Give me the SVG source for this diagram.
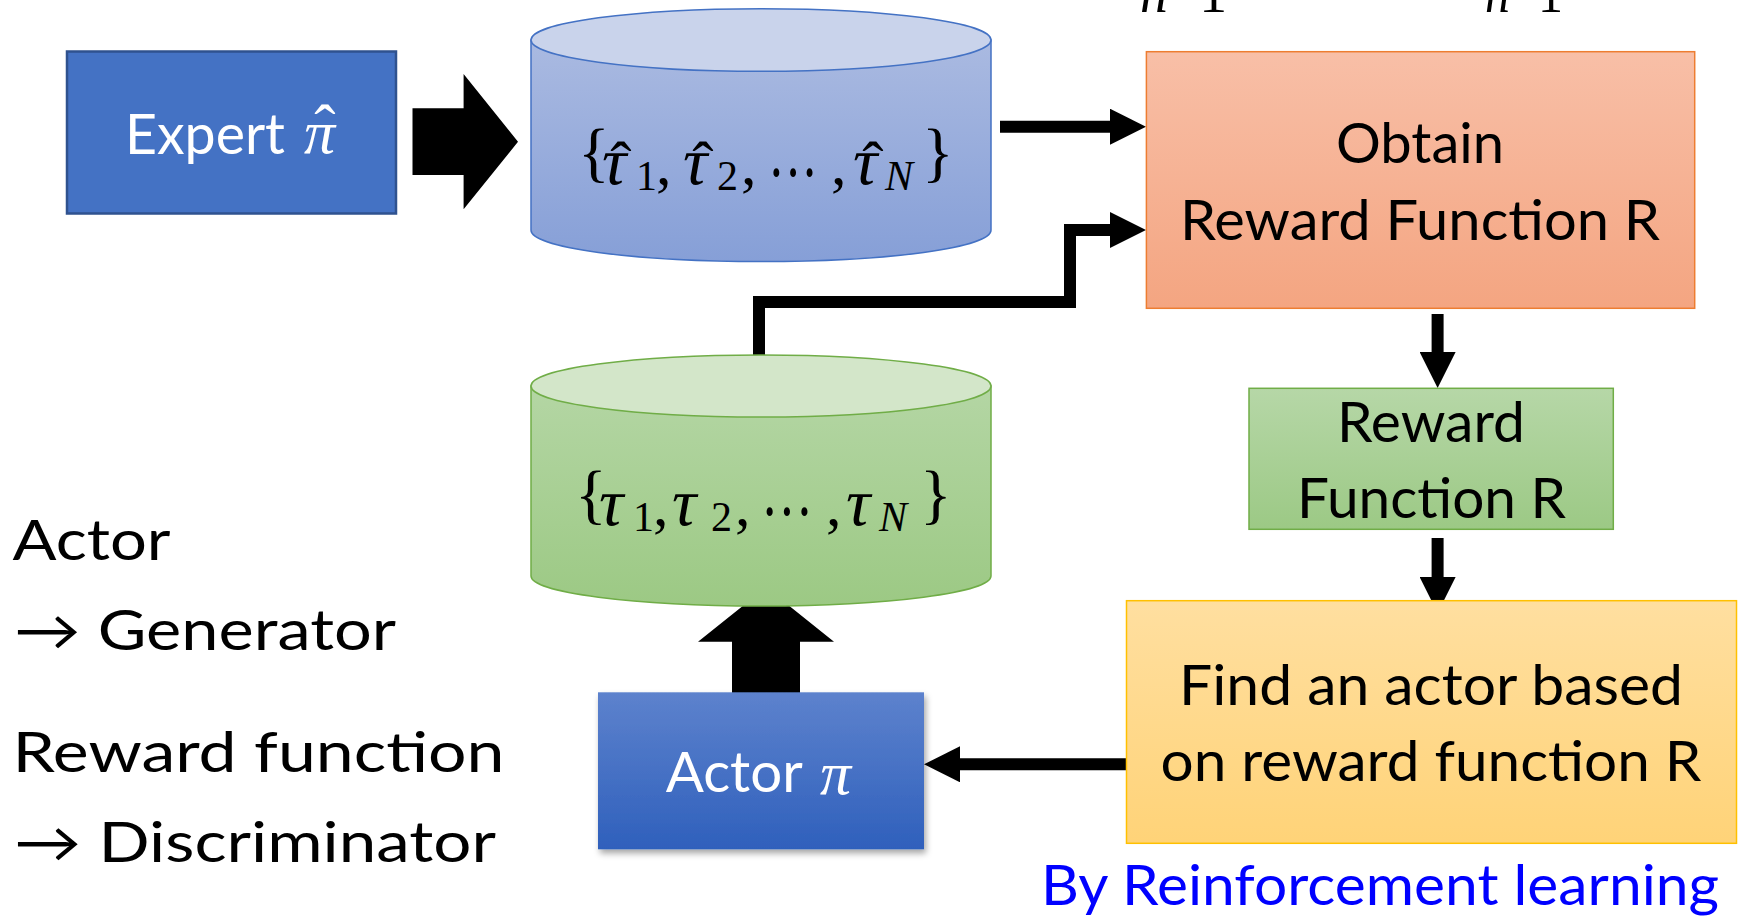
<svg xmlns="http://www.w3.org/2000/svg" width="1744" height="917" viewBox="0 0 1744 917">
<style>
.lbl{font-family:Lato,"Open Sans","Liberation Sans",sans-serif;font-size:56px;fill:#000}
.wht{fill:#fff}
.math{font-family:"Liberation Serif","DejaVu Serif",serif;font-size:62px;fill:#000}
.it{font-style:italic}
.sub{font-size:42px}
.br{font-size:66px}
.tau{font-size:68px;font-style:italic}
.hat{font-size:64px;text-anchor:middle}
.dots{font-size:74px}
.conn{fill:none;stroke:#000;stroke-width:12;stroke-linejoin:miter}
</style>
<defs>
<linearGradient id="gBlueCyl" x1="0" y1="0" x2="0" y2="1"><stop offset="0" stop-color="#AABAE1"/><stop offset="1" stop-color="#869FD7"/></linearGradient>
<linearGradient id="gGreenCyl" x1="0" y1="0" x2="0" y2="1"><stop offset="0" stop-color="#B4D6A4"/><stop offset="1" stop-color="#9CC984"/></linearGradient>
<linearGradient id="gOrange" x1="0" y1="0" x2="0" y2="1"><stop offset="0" stop-color="#F8BFA7"/><stop offset="1" stop-color="#F4A581"/></linearGradient>
<linearGradient id="gGreen" x1="0" y1="0" x2="0" y2="1"><stop offset="0" stop-color="#B6D7A7"/><stop offset="1" stop-color="#9CC985"/></linearGradient>
<linearGradient id="gYellow" x1="0" y1="0" x2="0" y2="1"><stop offset="0" stop-color="#FFDFA0"/><stop offset="1" stop-color="#FFD378"/></linearGradient>
<linearGradient id="gActor" x1="0" y1="0" x2="0" y2="1"><stop offset="0" stop-color="#5D82CD"/><stop offset="1" stop-color="#2F60BC"/></linearGradient>
<filter id="shadow" x="-10%" y="-10%" width="130%" height="130%"><feDropShadow dx="2" dy="4" stdDeviation="3" flood-color="#000" flood-opacity="0.35"/></filter>
<marker id="head" markerUnits="userSpaceOnUse" markerWidth="36" markerHeight="36" refX="0" refY="18" orient="auto"><path d="M0,0 L36,18 L0,36 Z" fill="#000"/></marker>
</defs>

<text class="math" x="1140" y="12" font-size="42" textLength="87" lengthAdjust="spacingAndGlyphs"><tspan class="it">n</tspan>=1</text>
<text class="math" x="1485" y="12" font-size="42" textLength="78" lengthAdjust="spacingAndGlyphs"><tspan class="it">n</tspan>=1</text>

<g id="connectors">
<polygon points="412.5,108.3 463.6,108.3 463.6,74 518,141.7 463.6,209.3 463.6,175 412.5,175" fill="#000"/>
<polygon points="732,693 732,641.7 698,641.7 766,587.3 834,641.7 800,641.7 800,693" fill="#000"/>
<path class="conn" d="M1000,126.7 H1110" marker-end="url(#head)"/>
<path class="conn" d="M759,389 V302 H1070 V230 H1110" marker-end="url(#head)"/>
<path class="conn" d="M1437.6,314 V352" marker-end="url(#head)"/>
<path class="conn" d="M1437.6,538 V577" marker-end="url(#head)"/>
<path class="conn" d="M1126.5,764.3 H960" marker-end="url(#head)"/>
</g>

<g id="expert">
<rect x="67" y="51.5" width="329" height="162" fill="#4472C4" stroke="#2F528F" stroke-width="2.5"/>
<text class="lbl wht" x="125" y="154.3" textLength="160" lengthAdjust="spacingAndGlyphs">Expert</text>
<text class="math it" x="304" y="153" font-size="68" style="fill:#fff">π</text>
<text class="math hat" x="325" y="149" font-size="60" style="fill:#fff">ˆ</text>
</g>

<g id="expert-trajectories">
<path d="M531,40 V230.3 A230,31.3 0 0 0 991,230.3 V40 Z" fill="url(#gBlueCyl)" stroke="#4472C4" stroke-width="1.5"/>
<ellipse cx="761" cy="40" rx="230" ry="31.3" fill="#C9D3EB" stroke="#4472C4" stroke-width="1.5"/>
<text class="math" y="184"><tspan class="br" x="578" y="174">{</tspan><tspan class="tau" x="602" y="184">τ</tspan><tspan class="sub" x="636" y="190">1</tspan><tspan x="656" y="184">,</tspan><tspan class="tau" x="683">τ</tspan><tspan class="sub" x="717" y="190">2</tspan><tspan x="741" y="184">,</tspan><tspan x="831">,</tspan><tspan class="tau" x="853">τ</tspan><tspan class="sub it" x="885" y="190">N</tspan><tspan class="br" x="922" y="174">}</tspan></text>
<text class="math dots" x="768" y="197" textLength="50" lengthAdjust="spacingAndGlyphs">···</text>
<text class="math hat" x="621" y="186">ˆ</text>
<text class="math hat" x="703" y="186">ˆ</text>
<text class="math hat" x="873" y="186">ˆ</text>
</g>

<g id="actor-trajectories">
<path d="M531,386 V576 A230,30 0 0 0 991,576 V386 Z" fill="url(#gGreenCyl)" stroke="#70AD47" stroke-width="1.5"/>
<ellipse cx="761" cy="386" rx="230" ry="31" fill="#D3E6C9" stroke="#70AD47" stroke-width="1.5"/>
<text class="math" y="525"><tspan class="br" x="575" y="516">{</tspan><tspan class="tau" x="599" y="525">τ</tspan><tspan class="sub" x="633" y="531">1</tspan><tspan x="653" y="525">,</tspan><tspan class="tau" x="672">τ</tspan><tspan class="sub" x="711" y="531">2</tspan><tspan x="735" y="525">,</tspan><tspan x="826">,</tspan><tspan class="tau" x="846">τ</tspan><tspan class="sub it" x="879" y="531">N</tspan><tspan class="br" x="920" y="516">}</tspan></text>
<text class="math dots" x="761" y="536" textLength="52" lengthAdjust="spacingAndGlyphs">···</text>
</g>

<g id="obtain">
<rect x="1146.4" y="51.7" width="548.3" height="256.6" fill="url(#gOrange)" stroke="#ED7D31" stroke-width="1.5"/>
<text class="lbl" x="1336" y="163.3" textLength="168" lengthAdjust="spacingAndGlyphs">Obtain</text>
<text class="lbl" x="1180" y="240" textLength="480" lengthAdjust="spacingAndGlyphs">Reward Function R</text>
</g>

<g id="reward">
<rect x="1249" y="388.3" width="364.3" height="141" fill="url(#gGreen)" stroke="#70AD47" stroke-width="1.5"/>
<text class="lbl" x="1337" y="441.7" textLength="188" lengthAdjust="spacingAndGlyphs">Reward</text>
<text class="lbl" x="1297" y="518.3" textLength="269" lengthAdjust="spacingAndGlyphs">Function R</text>
</g>

<g id="find">
<rect x="1126.5" y="600.7" width="610" height="242.6" fill="url(#gYellow)" stroke="#FFC000" stroke-width="1.5"/>
<text class="lbl" x="1179" y="705" textLength="504" lengthAdjust="spacingAndGlyphs">Find an actor based</text>
<text class="lbl" x="1160.5" y="780.7" textLength="541" lengthAdjust="spacingAndGlyphs">on reward function R</text>
</g>

<g id="actor">
<rect x="598" y="692.3" width="326" height="157" fill="url(#gActor)" filter="url(#shadow)"/>
<text class="lbl wht" x="665.7" y="791.7" textLength="137" lengthAdjust="spacingAndGlyphs">Actor</text>
<text class="math it" x="820" y="794" font-size="66" style="fill:#fff">π</text>
</g>

<g id="notes">
<text class="lbl" x="12.5" y="560" font-size="65" textLength="158" lengthAdjust="spacingAndGlyphs">Actor</text>
<text class="lbl" x="14" y="650" font-size="65" textLength="382" lengthAdjust="spacingAndGlyphs">→ Generator</text>
<text class="lbl" x="12.5" y="771.7" font-size="65" textLength="492" lengthAdjust="spacingAndGlyphs">Reward function</text>
<text class="lbl" x="14" y="861.7" font-size="65" textLength="482" lengthAdjust="spacingAndGlyphs">→ Discriminator</text>
<text class="lbl" x="1041" y="905" style="fill:#0000FF" textLength="678" lengthAdjust="spacingAndGlyphs">By Reinforcement learning</text>
</g>
</svg>
